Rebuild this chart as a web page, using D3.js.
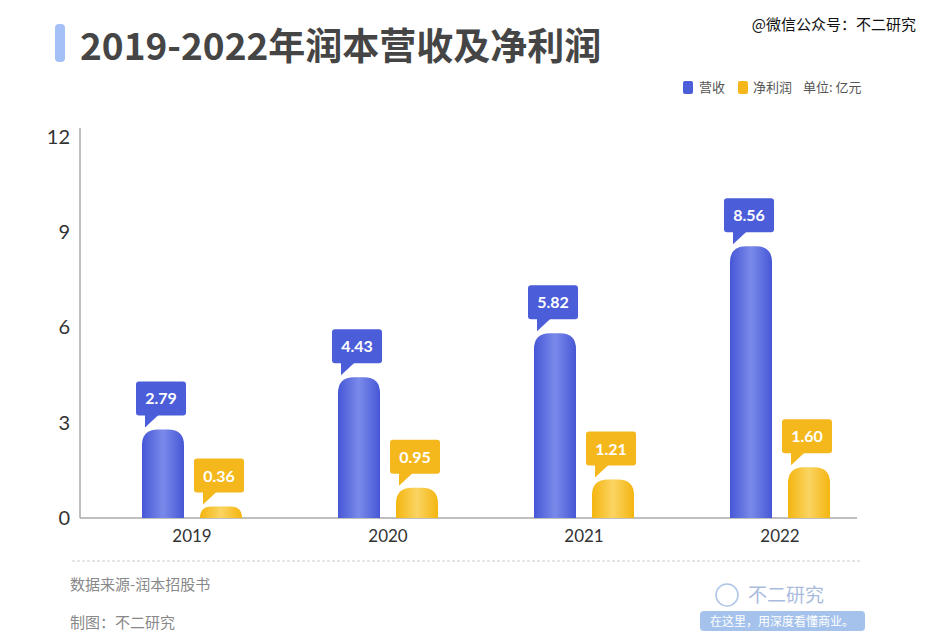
<!DOCTYPE html>
<html><head><meta charset="utf-8">
<script src="https://cdn.jsdelivr.net/npm/d3@7"></script>
<style>
html,body{margin:0;padding:0;background:#fff;}
svg{display:block;font-family:"Noto Sans CJK SC","Noto Sans",sans-serif;}
</style></head>
<body>
<svg id="chart" width="940" height="644"></svg>
<script>
const years = ["2019","2020","2021","2022"];
const revenue = [2.79, 4.43, 5.82, 8.56];
const netProfit = [0.36, 0.95, 1.21, 1.60];
const yTicks = [0, 3, 6, 9, 12];
const seriesNames = ["营收", "净利润"];

const svg = d3.select("#chart");
const defs = svg.append("defs");

function grad(id, edge, mid){
  const g = defs.append("linearGradient").attr("id", id).attr("x1","0%").attr("x2","100%");
  g.append("stop").attr("offset","0%").attr("stop-color", edge);
  g.append("stop").attr("offset","50%").attr("stop-color", mid);
  g.append("stop").attr("offset","100%").attr("stop-color", edge);
}
grad("gBlue", "#4657d6", "#7a8aea");
grad("gYellow", "#f4b50f", "#fad462");

const blue = "#4b5dd8", yellow = "#f5b81c";

// title
svg.append("rect").attr("x",55).attr("y",24).attr("width",10).attr("height",38).attr("rx",4).attr("fill","#a5c0f6");
svg.append("text").attr("x",80).attr("y",60).attr("font-size",37).attr("font-weight",700).attr("fill","#454545").text("2019-2022年润本营收及净利润");

// top-right watermark text
svg.append("text").attr("x",916).attr("y",30).attr("text-anchor","end").attr("font-size",15)
  .attr("fill","#111").attr("stroke","#fff").attr("stroke-width",0.6).attr("paint-order","stroke")
  .text("@微信公众号：不二研究");

// scales
const y = d3.scaleLinear().domain([0, 12]).range([518, 137]);
const x0 = d3.scaleBand().domain(years).range([94, 878]).paddingInner(0).paddingOuter(0);
const barW = 42, gap = 16;

// axes
const yAxis = d3.axisLeft(y).tickValues(yTicks).tickSize(0).tickPadding(10).tickFormat(d3.format("d"));
const gy = svg.append("g").attr("transform","translate(80,0)").call(yAxis);
gy.select(".domain").remove();
gy.selectAll("text").attr("font-size",20).attr("fill","#333").attr("font-family","Lato,'Noto Sans',sans-serif");
svg.append("line").attr("x1",80).attr("x2",80).attr("y1",128).attr("y2",518).attr("stroke","#aaa").attr("stroke-width",1.5);
svg.append("line").attr("x1",80).attr("x2",857).attr("y1",518).attr("y2",518).attr("stroke","#aaa").attr("stroke-width",1.5);

const xAxis = d3.axisBottom(x0).tickSize(0).tickPadding(12);
const gx = svg.append("g").attr("transform","translate(0,518)").call(xAxis);
gx.select(".domain").remove();
gx.selectAll("text").attr("font-size",17).attr("fill","#333").attr("font-family","Lato,'Noto Sans',sans-serif");

function barPath(x, top, w, bottom){
  const h = bottom - top;
  const r = Math.min(16, h, w/2);
  return `M${x},${bottom} L${x},${top+r} Q${x},${top} ${x+r},${top} L${x+w-r},${top} Q${x+w},${top} ${x+w},${top+r} L${x+w},${bottom} Z`;
}

const series = [
  {name: seriesNames[0], values: revenue, fill: "url(#gBlue)", color: blue, offset: -(barW + gap)/2 - barW/2},
  {name: seriesNames[1], values: netProfit, fill: "url(#gYellow)", color: yellow, offset: (barW + gap)/2 - barW/2}
];

series.forEach(s => {
  const g = svg.append("g");
  years.forEach((yr, i) => {
    const cx = x0(yr) + x0.bandwidth()/2;
    const bx = cx + s.offset;
    const top = y(s.values[i]);
    g.append("path").attr("d", barPath(bx, top, barW, 518)).attr("fill", s.fill);
    // callout
    const bw = 50, bh = 34;
    const lx = bx - 6, bottom = top - 14;
    const tg = g.append("g");
    tg.append("rect").attr("x", lx).attr("y", bottom - bh).attr("width", bw).attr("height", bh).attr("rx", 3).attr("fill", s.color);
    tg.append("path").attr("d", `M${lx+9},${bottom-1} L${lx+9},${bottom+12} L${lx+23},${bottom-1} Z`).attr("fill", s.color);
    tg.append("text").attr("x", lx + bw/2).attr("y", bottom - bh/2 + 6).attr("text-anchor","middle")
      .attr("font-size",16).attr("font-weight",700).attr("fill","#fff").attr("font-family","Lato,'Noto Sans',sans-serif")
      .text(s.values[i].toFixed(2));
  });
});

// legend
const lg = svg.append("g").attr("font-size",13).attr("fill","#555");
lg.append("rect").attr("x",683).attr("y",81).attr("width",10).attr("height",13).attr("rx",2).attr("fill",blue);
lg.append("text").attr("x",699).attr("y",92).text(seriesNames[0]);
lg.append("rect").attr("x",738).attr("y",81).attr("width",10).attr("height",13).attr("rx",2).attr("fill",yellow);
lg.append("text").attr("x",753).attr("y",92).text(seriesNames[1]);
lg.append("text").attr("x",803).attr("y",92).text("单位: 亿元");

// footer
svg.append("line").attr("x1",72).attr("x2",860).attr("y1",561).attr("y2",561).attr("stroke","#ccc").attr("stroke-dasharray","3,2");
svg.append("text").attr("x",70).attr("y",590).attr("font-size",15).attr("fill","#888").text("数据来源-润本招股书");
svg.append("text").attr("x",70).attr("y",628).attr("font-size",15).attr("fill","#888").text("制图：不二研究");

// bottom-right logo
const logo = svg.append("g").attr("opacity",0.6);
logo.append("circle").attr("cx",727).attr("cy",595).attr("r",11).attr("fill","none").attr("stroke","#7aa0d8").attr("stroke-width",1.5);
logo.append("text").attr("x",748).attr("y",602).attr("font-size",19).attr("fill","#6f8fc8").text("不二研究");
logo.append("rect").attr("x",700).attr("y",611).attr("width",165).attr("height",20).attr("rx",4).attr("fill","#6a9be0");
logo.append("text").attr("x",782).attr("y",626).attr("text-anchor","middle").attr("font-size",12).attr("fill","#fff").text("在这里，用深度看懂商业。");
</script>
</body></html>
